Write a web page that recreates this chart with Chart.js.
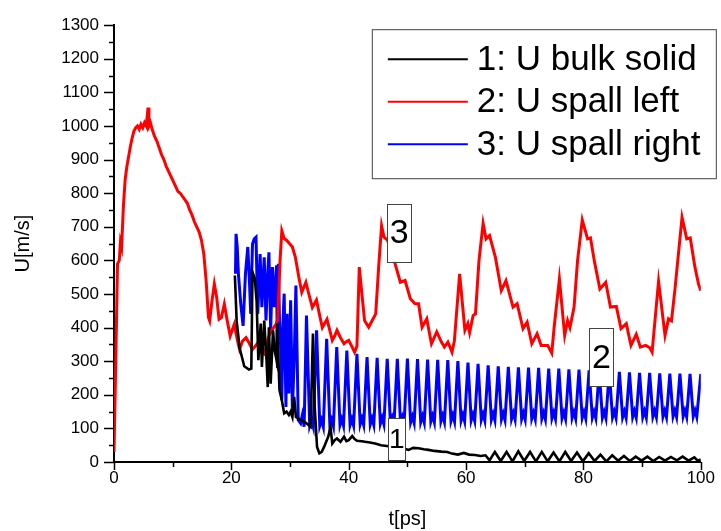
<!DOCTYPE html>
<html>
<head>
<meta charset="utf-8">
<script src="https://cdn.jsdelivr.net/npm/chart.js@4.4.1/dist/chart.umd.min.js"></script>
<style>
  html, body { margin: 0; padding: 0; background: #fff; }
</style>
</head>
<body>
<canvas id="myChart" width="721" height="531"></canvas>
<script>
// 1: U bulk solid
const bulkT = [20.6, 20.9, 21.4, 22.2, 23.0, 23.4, 23.6, 24.0, 24.3, 24.6, 25.0, 25.2, 25.6, 26.0, 26.2, 26.4, 26.7, 27.1, 27.4, 27.7, 27.8, 28.2, 28.6, 29.0, 29.4, 29.8, 30.1, 30.4, 30.7, 31.0, 31.8, 32.4, 32.8, 33.5, 33.9, 34.2, 34.6, 35.0, 35.4, 35.8, 36.5, 36.9, 37.2, 37.6, 38.0, 38.6, 39.2, 39.6, 40.0, 40.6, 41.0, 41.4, 42.2, 42.8, 43.6, 44.5, 45.5, 46.8, 48.0, 49.0, 50.2, 51.0, 51.9, 52.8, 53.6, 54.6, 55.8, 56.8, 57.6, 58.6, 59.6, 60.5, 61.5, 62.5, 63.3, 64.0, 64.9, 65.9, 66.9, 67.9, 68.9, 69.9, 70.9, 71.9, 72.9, 73.9, 74.9, 75.9, 76.9, 77.9, 78.9, 79.9, 80.9, 81.9, 82.9, 83.9, 84.9, 85.9, 86.9, 87.9, 88.9, 89.9, 90.9, 91.9, 92.9, 93.9, 94.9, 95.9, 96.9, 97.9, 98.9, 99.5, 100];
const bulkU = [555, 420, 340, 285, 275, 278, 565, 545, 480, 303, 412, 283, 421, 300, 223, 401, 233, 392, 330, 303, 412, 214, 184, 145, 150, 140, 150, 134, 194, 134, 125, 120, 115, 105, 382, 164, 45, 26, 30, 45, 75, 103, 55, 65, 70, 60, 75, 62, 65, 77, 68, 63, 62, 60, 58, 55, 50, 47, 45, 42, 36, 42, 41, 38, 36, 33, 31, 30, 25, 22, 27, 22, 21, 18, 20, 5, 30, 3, 30, 2, 32, 3, 30, 2, 30, 2, 28, 2, 30, 3, 28, 2, 26, 3, 22, 2, 20, 4, 18, 3, 16, 4, 16, 3, 15, 4, 15, 5, 16, 4, 14, 3, 8];

// 2: U spall left
const leftT = [0, 0.3, 0.6, 0.9, 1.1, 1.3, 1.6, 1.9, 2.2, 2.5, 2.8, 3.1, 3.4, 3.7, 4.0, 4.3, 4.6, 4.9, 5.2, 5.5, 5.8, 5.95, 6.2, 6.5, 6.9, 7.3, 7.7, 8.1, 8.5, 8.9, 9.3, 9.7, 10.1, 10.5, 10.9, 11.3, 11.7, 12.1, 12.5, 12.9, 13.3, 13.7, 14.1, 14.5, 14.9, 15.3, 15.7, 16.1, 16.3, 16.7, 17.1, 17.5, 17.9, 18.3, 18.8, 19.3, 19.8, 20.2, 20.5, 21.0, 21.4, 21.9, 22.5, 23.0, 23.6, 24.1, 24.5, 25.0, 25.6, 26.0, 26.4, 27.0, 27.6, 27.9, 28.3, 28.6, 29.0, 29.4, 29.9, 30.4, 30.9, 31.5, 32.0, 32.7, 33.2, 33.8, 34.5, 35.0, 35.5, 36.3, 36.8, 37.2, 37.6, 38.0, 38.6, 39.2, 39.6, 40.0, 40.5, 41.0, 41.4, 41.8, 42.3, 42.7, 43.4, 44.0, 44.6, 45.1, 45.6, 46.0, 46.6, 47.2, 47.9, 48.8, 49.6, 50.5, 51.3, 51.9, 52.5, 53.3, 54.1, 55.0, 55.8, 56.3, 56.9, 57.6, 58.0, 58.9, 59.8, 60.3, 60.6, 61.2, 61.6, 62.2, 62.9, 63.4, 64.0, 65.0, 66.0, 66.8, 68.0, 68.7, 69.7, 70.4, 71.2, 72.1, 72.8, 73.9, 74.6, 75.0, 75.9, 76.8, 77.3, 77.7, 78.4, 79.0, 79.8, 80.7, 81.2, 81.9, 82.8, 83.8, 84.6, 85.6, 86.4, 87.3, 88.1, 89.0, 89.7, 90.6, 91.3, 91.7, 92.8, 93.9, 94.5, 95.0, 95.6, 96.8, 97.6, 98.2, 99.0, 99.6, 100];
const leftU = [30, 300, 590, 600, 655, 640, 760, 840, 880, 910, 940, 965, 985, 995, 1000, 990, 1005, 995, 1010, 1000, 1055, 1000, 1010, 990, 970, 955, 935, 915, 900, 880, 865, 850, 835, 820, 805, 800, 790, 780, 770, 750, 735, 715, 700, 685, 660, 620, 540, 430, 420, 480, 530, 490, 425, 430, 470, 420, 375, 395, 410, 365, 335, 360, 370, 355, 335, 345, 355, 335, 323, 345, 375, 395, 410, 425, 600, 688, 665, 660, 650, 640, 610, 550, 505, 535, 500, 460, 482, 440, 400, 425, 390, 362, 375, 392, 370, 352, 358, 362, 345, 327, 345, 580, 491, 421, 401, 421, 441, 580, 703, 670, 660, 630, 590, 535, 540, 486, 471, 471, 401, 426, 352, 387, 357, 342, 357, 327, 360, 560, 392, 412, 385, 436, 441, 600, 710, 664, 674, 609, 510, 540, 461, 471, 397, 416, 352, 382, 347, 347, 324, 400, 545, 377, 421, 400, 461, 600, 720, 664, 667, 594, 515, 535, 461, 463, 397, 412, 347, 380, 342, 347, 340, 327, 538, 377, 426, 420, 515, 728, 664, 667, 580, 530, 510];

// 3: U spall right
const rightT = [20.7, 20.8, 21.0, 21.2, 21.6, 22.0, 22.4, 22.8, 23.1, 23.3, 23.6, 23.9, 24.2, 24.5, 24.9, 25.2, 25.6, 25.9, 26.2, 26.4, 26.7, 27.0, 27.3, 27.7, 27.85, 28.0, 28.2, 28.4, 28.6, 28.8, 29.0, 29.3, 29.5, 29.8, 30.1, 30.4, 30.7, 31.0, 31.4, 31.8, 32.1, 32.4,
  32.8, 33.35, 33.65, 33.95, 34.52, 35.07, 35.37, 35.67, 36.24, 36.79, 37.09, 37.39, 37.96, 38.51, 38.81, 39.11, 39.68, 40.23, 40.53, 40.83,
  41.4, 41.95, 42.25, 42.55, 43.12, 43.67, 43.97, 44.27, 44.84, 45.39, 45.69, 45.99, 46.56, 47.11, 47.41, 47.71, 48.28, 48.83, 49.13, 49.43,
  50.0, 50.55, 50.85, 51.15, 51.72, 52.27, 52.57, 52.87, 53.44, 53.99, 54.29, 54.59, 55.16, 55.71, 56.01, 56.31, 56.88, 57.43, 57.73, 58.03,
  58.6, 59.15, 59.45, 59.75, 60.32, 60.87, 61.17, 61.47, 62.04, 62.59, 62.89, 63.19, 63.76, 64.31, 64.61, 64.91, 65.48, 66.03, 66.33, 66.63,
  67.2, 67.75, 68.05, 68.35, 68.92, 69.47, 69.77, 70.07, 70.64, 71.19, 71.49, 71.79, 72.36, 72.91, 73.21, 73.51, 74.08, 74.63, 74.93, 75.23,
  75.8, 76.35, 76.65, 76.95, 77.52, 78.07, 78.37, 78.67, 79.24, 79.79, 80.09, 80.39, 80.96, 81.51, 81.81, 82.11, 82.68, 83.23, 83.53, 83.83,
  84.4, 84.95, 85.25, 85.55, 86.12, 86.67, 86.97, 87.27, 87.84, 88.39, 88.69, 88.99, 89.56, 90.11, 90.41, 90.71, 91.28, 91.83, 92.13, 92.43,
  93.0, 93.55, 93.85, 94.15, 94.72, 95.27, 95.57, 95.87, 96.44, 96.99, 97.29, 97.59, 98.16, 98.71, 99.01, 99.31, 100];
const rightU = [560, 679, 640, 560, 470, 405, 560, 640, 530, 441, 649, 664, 669, 441, 619, 461, 609, 421, 560, 624, 392, 580, 461, 585, 280, 590, 421, 350, 184, 420, 501, 164, 441, 204, 481, 154, 300, 525, 125, 115, 140, 105,
  436, 108, 125, 105, 392, 108, 125, 105, 367, 108, 126, 106, 342, 110, 128, 108, 332, 110, 128, 108,
  322, 112, 130, 110, 312, 112, 130, 110, 310, 114, 132, 112, 307, 115, 133, 113, 307, 116, 134, 114,
  308, 118, 136, 116, 306, 119, 137, 117, 305, 120, 138, 118, 304, 121, 139, 119, 303, 122, 140, 120,
  300, 123, 141, 121, 296, 124, 142, 122, 292, 125, 143, 123, 288, 126, 144, 124, 285, 127, 145, 125,
  283, 128, 146, 126, 282, 128, 146, 126, 281, 129, 147, 127, 280, 129, 147, 127, 278, 130, 148, 128,
  278, 130, 148, 128, 276, 131, 149, 129, 275, 131, 149, 129, 273, 132, 150, 130, 271, 132, 150, 130,
  270, 133, 151, 131, 268, 133, 151, 131, 267, 134, 152, 132, 265, 134, 152, 132, 265, 135, 153, 133,
  264, 135, 153, 133, 263, 136, 154, 134, 263, 136, 154, 134, 262, 136, 154, 134, 262];

const seriesNames = ["1: U bulk solid", "2: U spall left", "3: U spall right"];
const seriesColors = ["#000000", "#ff0000", "#0000ff"];

// curve tags drawn in boxes on the plot
const tagTexts = ["3", "2", "1"];
const tagT = [48.6, 83.05, 48.2];
const tagU = [682, 312, 68];

const xMinorTicks = [0, 10, 20, 30, 40, 50, 60, 70, 80, 90, 100];
const yMinorTicks = [0, 50, 100, 150, 200, 250, 300, 350, 400, 450, 500, 550, 600, 650, 700, 750, 800, 850, 900, 950, 1000, 1050, 1100, 1150, 1200, 1250, 1300];

const FONT = "'Liberation Sans', Arial, sans-serif";

function toPoints(ts, us) {
  return ts.map((t, i) => ({ x: t, y: us[i] }));
}

const extras = {
  id: "extras",
  afterDatasetsDraw(chart) {
    const { ctx, chartArea, scales } = chart;
    const x = scales.x, y = scales.y;
    ctx.save();

    // ticks, outward
    ctx.strokeStyle = "#000";
    ctx.lineWidth = 1.5;
    ctx.beginPath();
    xMinorTicks.forEach((v) => {
      const px = Math.round(x.getPixelForValue(v)) + 0.5;
      const len = v % 20 === 0 ? 8 : 5;
      ctx.moveTo(px, chartArea.bottom);
      ctx.lineTo(px, chartArea.bottom + len);
    });
    yMinorTicks.forEach((v) => {
      const py = Math.round(y.getPixelForValue(v)) + 0.5;
      const len = v % 100 === 0 ? 10 : 5;
      ctx.moveTo(chartArea.left, py);
      ctx.lineTo(chartArea.left - len, py);
    });
    ctx.stroke();

    // tags
    tagTexts.forEach((txt, i) => {
      const cx = x.getPixelForValue(tagT[i]);
      const cy = y.getPixelForValue(tagU[i]);
      const small = txt === "1";
      const w = small ? 17 : 24;
      const h = small ? 42 : 58;
      ctx.fillStyle = "#fff";
      ctx.fillRect(cx - w / 2, cy - h / 2, w, h);
      ctx.strokeStyle = "#444";
      ctx.lineWidth = 1;
      ctx.strokeRect(Math.round(cx - w / 2) + 0.5, Math.round(cy - h / 2) + 0.5, w, h);
      ctx.fillStyle = "#000";
      ctx.font = (small ? 28 : 34) + "px " + FONT;
      ctx.textAlign = "center";
      ctx.textBaseline = "middle";
      ctx.fillText(txt, cx, cy + 1);
    });

    // legend box
    const lx = chartArea.right - 329, ly = chartArea.top + 4;
    ctx.fillStyle = "#fff";
    ctx.fillRect(lx, ly, 344, 149);
    ctx.strokeStyle = "#444";
    ctx.lineWidth = 1;
    ctx.strokeRect(lx + 0.5, ly + 0.5, 344, 149);
    ctx.font = "35px " + FONT;
    ctx.textAlign = "left";
    ctx.textBaseline = "middle";
    seriesNames.forEach((name, i) => {
      const ry = ly + 30 + i * 42.5;
      ctx.strokeStyle = seriesColors[i];
      ctx.lineWidth = 2;
      ctx.beginPath();
      ctx.moveTo(lx + 16, ry);
      ctx.lineTo(lx + 96, ry);
      ctx.stroke();
      ctx.fillStyle = "#000";
      ctx.fillText(name, lx + 105, ry + 1);
    });
    ctx.restore();
  },
};

const ctx = document.getElementById("myChart").getContext("2d");
new Chart(ctx, {
  type: "line",
  data: {
    datasets: [
      { label: seriesNames[0], data: toPoints(bulkT, bulkU), borderColor: seriesColors[0], borderWidth: 2.6 },
      { label: seriesNames[1], data: toPoints(leftT, leftU), borderColor: seriesColors[1], borderWidth: 3 },
      { label: seriesNames[2], data: toPoints(rightT, rightU), borderColor: seriesColors[2], borderWidth: 3 },
    ],
  },
  options: {
    responsive: false,
    animation: false,
    events: [],
    elements: { point: { radius: 0 }, line: { tension: 0, fill: false } },
    layout: { padding: { top: 25, right: 17, left: 0, bottom: 0 } },
    plugins: { legend: { display: false }, tooltip: { enabled: false } },
    scales: {
      x: {
        type: "linear",
        min: 0,
        max: 100,
        ticks: { stepSize: 20, color: "#000", font: { family: FONT, size: 17 }, padding: 6, maxRotation: 0, callback: (v) => String(v) },
        grid: { display: false, drawTicks: false },
        border: { display: true, color: "#000", width: 2 },
        title: { display: true, text: "t[ps]", color: "#000", font: { family: FONT, size: 20 }, padding: { top: 0, bottom: 0 } },
        afterFit: (s) => { s.height = 69; },
      },
      y: {
        type: "linear",
        min: 0,
        max: 1300,
        ticks: { stepSize: 100, color: "#000", font: { family: FONT, size: 17 }, padding: 15, callback: (v) => String(v) },
        grid: { display: false, drawTicks: false },
        border: { display: true, color: "#000", width: 2 },
        title: { display: true, text: "U[m/s]", color: "#000", font: { family: FONT, size: 20 }, padding: { top: 11, bottom: 0 } },
        afterFit: (s) => { s.width = 114; },
      },
    },
  },
  plugins: [extras],
});
</script>
</body>
</html>
